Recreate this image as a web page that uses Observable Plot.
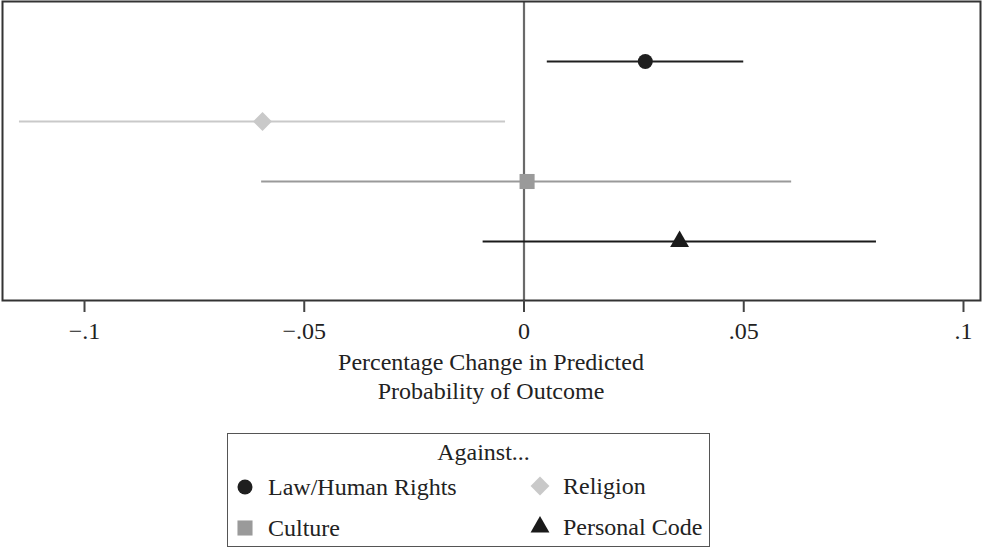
<!DOCTYPE html>
<html>
<head>
<meta charset="utf-8">
<script src="https://cdn.jsdelivr.net/npm/d3@7"></script>
<script src="https://cdn.jsdelivr.net/npm/@observablehq/plot@0.6"></script>
<style>
  html, body { margin: 0; padding: 0; background: #fff; }
  body { width: 982px; height: 548px; position: relative; overflow: hidden; font-family: "Liberation Serif", "Times New Roman", serif; color: #222; }
  #chart { position: absolute; left: 0; top: 0; }
  #xlabel { position: absolute; left: 2px; width: 978px; top: 348px; text-align: center; font-size: 24px; line-height: 29px; color: #222; }
  #legend { position: absolute; left: 227px; top: 433px; width: 481px; height: 112px; border: 1.5px solid #555; box-sizing: content-box; }
  #legend .title { position: absolute; left: 0; width: 100%; top: 4px; text-align: center; font-size: 24px; line-height: 29px; padding-left: 30px; box-sizing: border-box; }
  #legend .item { position: absolute; font-size: 24px; line-height: 29px; white-space: nowrap; }
  #legend .item svg { position: absolute; overflow: visible; }
</style>
</head>
<body>
<div id="chart"></div>
<div id="xlabel">Percentage Change in Predicted<br>Probability of Outcome</div>
<div id="legend"></div>
<script>
// ---- data ----
const categories = ["Law/Human Rights", "Religion", "Culture", "Personal Code"];
const estimates  = [0.0276, -0.0595, 0.0007, 0.0354];
const lower      = [0.0053, -0.1148, -0.0597, -0.0093];
const upper      = [0.0500, -0.0042, 0.0609, 0.0802];
const tickValues = [-0.1, -0.05, 0, 0.05, 0.1];
const tickLabels = ["\u2212.1", "\u2212.05", "0", ".05", ".1"];

// ---- styling ----
const colors  = ["#1f1f1f", "#c9c9c9", "#9a9a9a", "#1a1a1a"];
const symbols = ["circle", "diamond2", "square", "triangle"];
const radii   = [7.5, 8.5, 8.5, 7];

const rows = categories.map((c, i) => ({category: c, est: estimates[i], lo: lower[i], hi: upper[i], r: radii[i]}));

const chart = Plot.plot({
  width: 982,
  height: 345,
  marginLeft: 2,
  marginRight: 2,
  marginTop: 1,
  marginBottom: 45,
  style: {fontFamily: "Liberation Serif, Times New Roman, serif", fontSize: "24px", color: "#222", background: "#fff"},
  x: {domain: [-0.11866, 0.10387], ticks: tickValues, tickFormat: (d) => tickLabels[tickValues.indexOf(d)] ?? "", label: null},
  y: {type: "point", domain: categories, padding: 0, insetTop: 59, insetBottom: 59, axis: null},
  color: {domain: categories, range: colors},
  symbol: {domain: categories, range: symbols},
  r: {type: "identity"},
  marks: [
    Plot.ruleX([0], {stroke: "#6a6a6a", strokeWidth: 2.2}),
    Plot.ruleY(rows, {y: "category", x1: "lo", x2: "hi", stroke: "category", strokeWidth: 2.2}),
    Plot.dot(rows, {x: "est", y: "category", symbol: "category", fill: "category", r: "r", stroke: "none"}),
    Plot.frame({stroke: "#333", strokeWidth: 2}),
    Plot.axisX({ticks: tickValues, tickFormat: (d) => tickLabels[tickValues.indexOf(d)] ?? "", tickSize: 12, tickPadding: 9, stroke: "#444", strokeWidth: 2, strokeOpacity: 1, fill: "#222", label: null, fontSize: 24})
  ]
});
document.getElementById("chart").appendChild(chart);

// ---- legend ----
const legend = document.getElementById("legend");
const title = document.createElement("div");
title.className = "title";
title.textContent = "Against...";
legend.appendChild(title);

const legendOrder = [0, 1, 2, 3];           // Law, Religion / Culture, Personal Code
const colX = [17, 312];                       // marker centre x within legend box (relative)
const rowY = [53, 92];                        // marker centre y within legend box
legendOrder.forEach((idx, k) => {
  const col = k % 2, row = Math.floor(k / 2);
  const item = document.createElement("div");
  item.className = "item";
  item.style.left = (colX[col] - 10) + "px";
  item.style.top = (rowY[row] - 14 + (col === 1 ? -1 : 0) + (row === 1 ? 2 : 0)) + "px";
  const sz = Math.PI * radii[idx] * radii[idx];
  const sym = d3.symbol(d3["symbol" + ({circle: "Circle", diamond2: "Diamond2", square: "Square", triangle: "Triangle"})[symbols[idx]]], sz)();
  const ns = "http://www.w3.org/2000/svg";
  const svg = document.createElementNS(ns, "svg");
  svg.setAttribute("width", 20); svg.setAttribute("height", 20);
  svg.style.left = "0px"; svg.style.top = "4px";
  const p = document.createElementNS(ns, "path");
  p.setAttribute("d", sym);
  p.setAttribute("transform", "translate(10,10)");
  p.setAttribute("fill", colors[idx]);
  svg.appendChild(p);
  item.appendChild(svg);
  const span = document.createElement("span");
  span.textContent = categories[idx];
  span.style.paddingLeft = "33px";
  item.appendChild(span);
  legend.appendChild(item);
});
</script>
</body>
</html>
